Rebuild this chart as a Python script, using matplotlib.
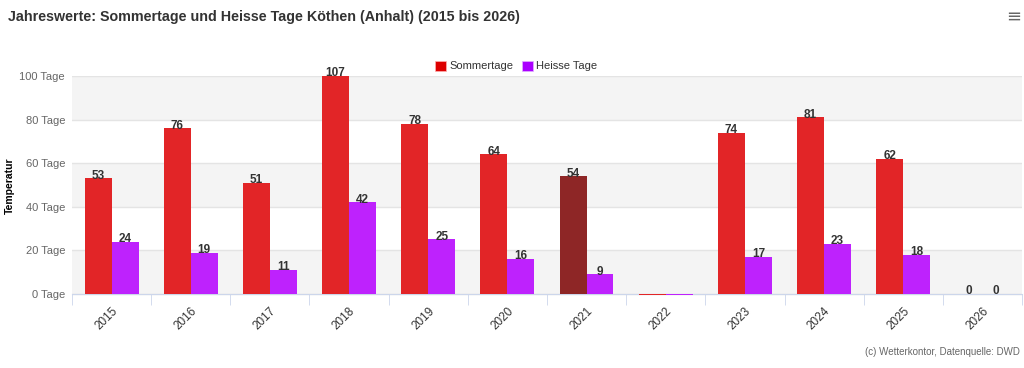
import numpy as np
import matplotlib
matplotlib.use("Agg")
import matplotlib.pyplot as plt
from matplotlib.patches import Patch

plt.rcParams['font.family'] = ['Liberation Sans', 'DejaVu Sans']

# Daten (Tage pro Jahr)
jahre = ["2015", "2016", "2017", "2018", "2019", "2020", "2021", "2022", "2023", "2024", "2025", "2026"]
sommertage = [53, 76, 51, 107, 78, 64, 54, -0.6, 74, 81, 62, 0]
heisse_tage = [24, 19, 11, 42, 25, 16, 9, -0.6, 17, 23, 18, 0]
ohne_label = ["2022"]
hervorgehoben = "2021"

rot = '#e22527'
rot_dunkel = '#8e2626'
lila = '#be22fd'
ymax = 100
ymin = -1.5

fig = plt.figure(figsize=(10.24, 3.68), dpi=100)
ax = fig.add_axes([72 / 1024, 0.1922, 950 / 1024, 0.6014])

x = np.arange(len(jahre))
w = 0.34

# Hintergrundbaender und Gitter
for lo in range(0, ymax, 40):
    ax.axhspan(lo, lo + 20, color='#f4f4f4', zorder=0, lw=0)
for y in range(0, ymax + 1, 20):
    ax.axhline(y, color='#e4e4e4', lw=1, zorder=1)

farben_s = [rot_dunkel if j == hervorgehoben else rot for j in jahre]
ax.bar(x - w / 2, sommertage, w, color=farben_s, linewidth=0, zorder=3)
ax.bar(x + w / 2, heisse_tage, w, color=lila, linewidth=0, zorder=3)

for i, j in enumerate(jahre):
    if j in ohne_label:
        continue
    for dx, v in ((-w / 2, sommertage[i]), (w / 2, heisse_tage[i])):
        ax.text(x[i] + dx, min(v, ymax) - 1.5, str(v), ha='center', va='bottom',
                fontsize=8.5, fontweight='bold', color='#333333', zorder=4, clip_on=False)

ax.set_xlim(-0.5, len(jahre) - 0.5)
ax.set_ylim(ymin, ymax)

for s in ('top', 'right', 'left'):
    ax.spines[s].set_visible(False)
ax.spines['bottom'].set_position(('data', 0))
ax.spines['bottom'].set_color('#ccd6eb')
ax.spines['bottom'].set_zorder(2)

ax.set_xticks(x)
ax.set_xticklabels(jahre, rotation=45, ha='right', rotation_mode='anchor', fontsize=8.5, color='#333333')
ax.set_xticks(np.arange(-0.5, len(jahre)), minor=True)
ax.tick_params(axis='x', which='major', length=0, pad=8)
ax.tick_params(axis='x', which='minor', length=8, color='#ccd6eb')

ax.set_yticks(range(0, ymax + 1, 20))
ax.set_yticklabels([f"{v} Tage" for v in range(0, ymax + 1, 20)], fontsize=8, color='#666666')
ax.tick_params(axis='y', length=0, pad=5)

fig.text(10 / 1024, 1 - 186 / 368, "Temperatur", rotation=90, ha='center', va='center',
         fontsize=7.5, fontweight='bold', color='#000000')

fig.text(8 / 1024, 1 - 17 / 368, "Jahreswerte: Sommertage und Heisse Tage Köthen (Anhalt) (2015 bis 2026)",
         ha='left', va='center', fontsize=10.3, fontweight='bold', color='#333333')
fig.text(1014 / 1024, 1 - 17 / 368, "≡", ha='center', va='center', fontsize=13, color='#666666',
         family='DejaVu Sans')
fig.text(1020 / 1024, 1 - 352 / 368, "(c) Wetterkontor, Datenquelle: DWD", ha='right', va='center',
         fontsize=7, color='#666666')

handles = [Patch(facecolor='#dd0000', edgecolor='#ffb0b0', linewidth=0.5, label='Sommertage'),
           Patch(facecolor='#aa00ff', edgecolor='#e0b0ff', linewidth=0.5, label='Heisse Tage')]
fig.legend(handles=handles, loc='center', bbox_to_anchor=(516 / 1024, 1 - 66 / 368), ncol=2,
           frameon=False, fontsize=8, handlelength=1.0, handleheight=1.0, handletextpad=0.3,
           columnspacing=0.8, labelcolor='#333333')

fig.savefig("out.png", dpi=100)
